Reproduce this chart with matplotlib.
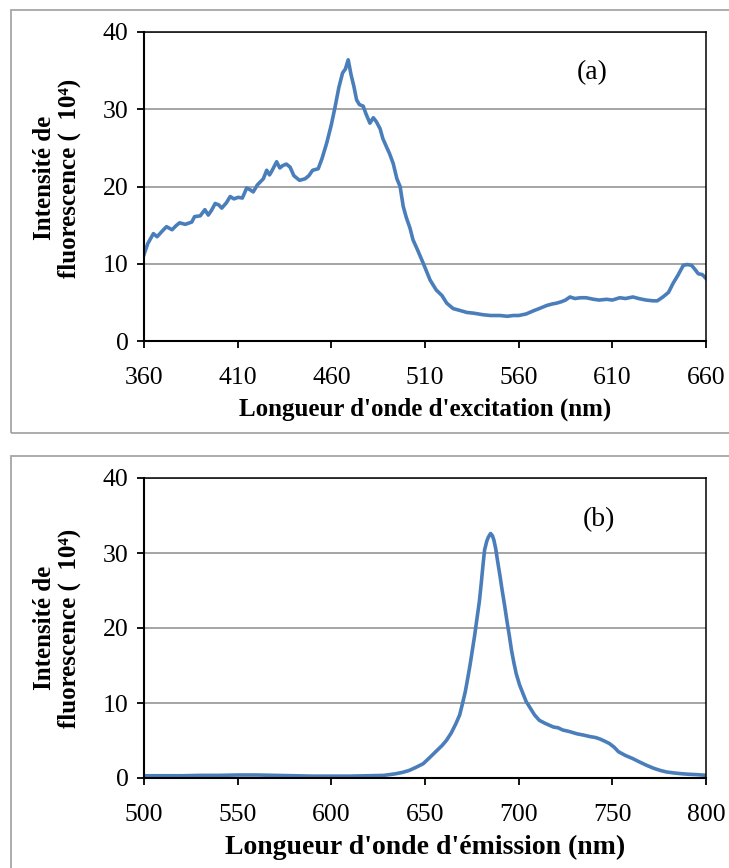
#!/usr/bin/env python3
# -*- coding: utf-8 -*-
"""
Spectres de fluorescence : excitation (a) et emission (b)
"""

# import packages
import numpy as np
import matplotlib
matplotlib.use('Agg')
import matplotlib.pyplot as plt
from matplotlib.patches import Rectangle


##### Data

# (a) excitation spectrum
exc_nm = [360, 362, 365, 367, 370, 372, 375, 377, 379, 382, 385.5, 387, 390, 392.5, 394.3,
          396, 398, 400, 401.5, 404, 406, 408, 410.3, 412.5, 414.8, 416.5, 418.3, 420.5,
          423.7, 425.5, 427, 428, 430.8, 432.5, 434, 436, 438, 440, 443, 446, 448, 450,
          453, 455, 457.5, 460, 462, 464, 466, 467.5, 469, 470.5, 472, 473.5, 475, 477,
          478.5, 480.6, 482.4, 484, 486, 487.5, 489.5, 491, 493, 495, 496.7, 498.4, 500,
          502, 503.6, 506, 509, 512.7, 516, 519, 521.6, 525, 528, 532.3, 536, 541, 545,
          550, 554, 557, 560, 564, 567.8, 571, 575, 578, 580.3, 583, 585, 587.4, 590,
          593, 596, 600, 603, 607, 610, 614, 617, 621, 624, 628, 631.8, 634, 637, 640,
          642.5, 645, 647.9, 650, 652.3, 654, 655.9, 658, 660]
exc_val = [11.2, 12.6, 13.9, 13.5, 14.3, 14.8, 14.4, 14.9, 15.3, 15.1, 15.4, 16.1, 16.2,
           17.0, 16.3, 16.9, 17.8, 17.6, 17.2, 17.9, 18.7, 18.4, 18.6, 18.5, 19.8, 19.6,
           19.3, 20.2, 21.0, 22.1, 21.5, 21.9, 23.2, 22.4, 22.7, 22.9, 22.5, 21.4, 20.8,
           21.0, 21.4, 22.1, 22.3, 23.6, 25.6, 28.0, 30.3, 32.8, 34.7, 35.2, 36.4, 34.5,
           33.0, 31.2, 30.6, 30.4, 29.4, 28.2, 28.9, 28.4, 27.5, 26.2, 25.1, 24.3, 23.0,
           21.0, 20.0, 17.4, 16.0, 14.6, 13.1, 11.8, 10.1, 7.9, 6.6, 5.9, 4.9, 4.2, 4.0,
           3.7, 3.6, 3.4, 3.3, 3.3, 3.2, 3.3, 3.3, 3.5, 3.9, 4.2, 4.6, 4.8, 4.9, 5.1, 5.3,
           5.7, 5.5, 5.6, 5.6, 5.4, 5.3, 5.4, 5.3, 5.6, 5.5, 5.7, 5.5, 5.3, 5.2, 5.2, 5.7,
           6.3, 7.5, 8.5, 9.8, 9.9, 9.8, 9.3, 8.7, 8.6, 8.1]

# (b) emission spectrum
emi_nm = [500, 510, 520, 530, 540, 550, 560, 570, 580, 590, 600, 610, 620, 628, 634, 638,
          641.5, 645, 649, 652, 656.5, 659, 661.4, 664, 666.4, 668.5, 670, 671.5, 672.6,
          674, 675, 676.5, 677.6, 679, 680, 681, 681.8, 683, 683.8, 685, 686, 686.8,
          687.8, 688.7, 690, 691.2, 692.5, 693.7, 695, 696.2, 697.5, 698.7, 700.5, 702.4,
          704, 706, 708.5, 711, 714, 718.5, 721, 723.5, 727, 731, 735, 738.5, 741, 743.4,
          746, 748.4, 751, 753.3, 757, 760.8, 764, 768.2, 772, 775.7, 779, 783, 787,
          790.6, 795, 800]
emi_val = [0.3, 0.3, 0.3, 0.35, 0.35, 0.4, 0.4, 0.35, 0.3, 0.25, 0.25, 0.25, 0.3, 0.35,
           0.55, 0.75, 1.0, 1.4, 1.9, 2.6, 3.7, 4.3, 5.0, 6.0, 7.2, 8.4, 9.9, 11.5, 13.0,
           15.0, 16.6, 19.0, 21.0, 23.5, 25.9, 28.5, 30.4, 31.6, 32.1, 32.6, 32.3, 31.7,
           30.5, 29.0, 27.0, 25.0, 23.0, 21.0, 19.0, 17.0, 15.3, 13.9, 12.4, 11.2, 10.2,
           9.4, 8.4, 7.7, 7.3, 6.8, 6.7, 6.4, 6.2, 5.9, 5.7, 5.5, 5.4, 5.2, 4.9, 4.6, 4.1,
           3.5, 3.0, 2.6, 2.2, 1.7, 1.3, 1.0, 0.8, 0.67, 0.57, 0.5, 0.45, 0.36]

exc_ticks = [360, 410, 460, 510, 560, 610, 660]
emi_ticks = [500, 550, 600, 650, 700, 750, 800]
y_ticks = [0, 10, 20, 30, 40]


##### Style

plt.rcParams['font.family'] = ['Liberation Serif', 'DejaVu Serif']
line_color = '#4a7ebb'
W, H = 729, 868

fig = plt.figure(figsize=(W / 100, H / 100), dpi=100)


def px_axes(left, top, right, bottom):
    # axes placed with pixel coordinates (origin top-left)
    return fig.add_axes([left / W, 1 - bottom / H, (right - left) / W, (bottom - top) / H])


def panel(ax, x, y, ticks, letter, letter_pos, xlabel, xlabel_size):
    ax.plot(x, y, color=line_color, lw=2.6, solid_joinstyle='round')
    ax.set_xlim(ticks[0], ticks[-1])
    ax.set_ylim(0, 40)
    ax.set_xticks(ticks)
    ax.set_yticks(y_ticks)
    ax.grid(axis='y', color='#8c8c8c', lw=1.1)
    ax.set_axisbelow(True)
    for s in ax.spines.values():
        s.set_color('black')
        s.set_linewidth(1.1)
    ax.spines['left'].set_linewidth(1.5)
    ax.spines['bottom'].set_linewidth(1.5)
    ax.tick_params(axis='x', direction='out', length=5, width=1.3, pad=14, labelsize=18.5)
    ax.tick_params(axis='y', direction='out', length=5, width=1.3, pad=6, labelsize=18.5)
    ax.text(letter_pos[0], letter_pos[1], letter, fontsize=20, ha='center', va='center')
    ax.set_xlabel(xlabel, fontsize=xlabel_size, fontweight='bold', labelpad=6)


# outer chart borders (grey frames)
fig.patches.append(Rectangle((11 / W, 1 - 433 / H), (W + 5 - 11) / W, (433 - 10) / H,
                             transform=fig.transFigure, fill=False, ec='#a6a6a6', lw=1.3))
fig.patches.append(Rectangle((11 / W, -0.01), (W + 5 - 11) / W, 0.01 + (H - 456) / H,
                             transform=fig.transFigure, fill=False, ec='#a6a6a6', lw=1.3))

ax1 = px_axes(144, 32, 706, 341)
panel(ax1, exc_nm, exc_val, exc_ticks, '(a)', (599, 34.8),
      "Longueur d'onde d'excitation (nm)", 18)

ax2 = px_axes(144, 478, 706, 778)
panel(ax2, emi_nm, emi_val, emi_ticks, '(b)', (743, 34.4),
      "Longueur d'onde d'émission (nm)", 20)

# y labels (two lines, bold)
ylab = "Intensité de\nfluorescence (  10⁴)"
fig.text(57 / W, 1 - 178 / H, ylab, rotation=90, fontsize=18, fontweight='bold',
         ha='center', va='center', linespacing=1.05)
fig.text(57 / W, 1 - 628 / H, ylab, rotation=90, fontsize=18, fontweight='bold',
         ha='center', va='center', linespacing=1.05)

plt.savefig('out.png', dpi=100)
